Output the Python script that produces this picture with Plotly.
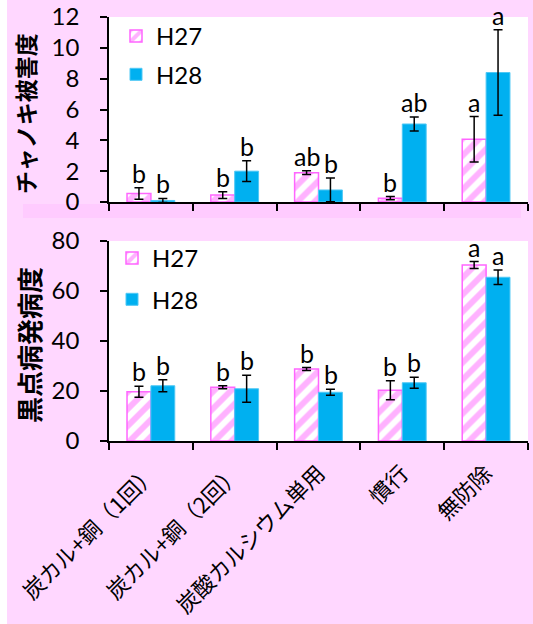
import plotly.graph_objects as go

W, H = 533, 624

categories = ["炭カル+銅（1回）", "炭カル+銅（2回）", "炭酸カルシウム単用", "慣行", "無防除"]

# Top panel: チャノキ被害度
damage_h27 = [0.55, 0.45, 1.90, 0.25, 4.07]
damage_h27_err = [0.37, 0.22, 0.12, 0.10, 1.47]
damage_h28 = [0.10, 2.00, 0.78, 5.06, 8.40]
damage_h28_err = [0.13, 0.67, 0.77, 0.45, 2.77]
damage_h27_sig = ["b", "b", "ab", "b", "a"]
damage_h28_sig = ["b", "b", "b", "ab", "a"]

# Bottom panel: 黒点病発病度
disease_h27 = [19.7, 21.5, 28.8, 20.3, 70.4]
disease_h27_err = [2.2, 0.6, 0.6, 3.8, 1.4]
disease_h28 = [22.1, 20.9, 19.5, 23.3, 65.5]
disease_h28_err = [2.4, 5.4, 1.2, 2.2, 2.9]
disease_h27_sig = ["b", "b", "b", "b", "a"]
disease_h28_sig = ["b", "b", "b", "b", "a"]

top_ticks = [0, 2, 4, 6, 8, 10, 12]
bottom_ticks = [0, 20, 40, 60, 80]

PINK = "#FF66FF"
BLUE = "#00B0F0"
BG = "#FFD7FF"
NUM_FONT = "Lato"
JP_FONT = "Noto Sans CJK JP"


def px_x(p):
    return p / W


def px_y(p):
    return 1 - p / H


fig = go.Figure()


def add_pair(xa, ya, leg, v27, e27, v28, e28):
    fig.add_trace(go.Bar(
        x=categories, y=v27, name="H27", xaxis=xa, yaxis=ya, legend=leg,
        legendgroup="H27",
        marker=dict(color="white", line=dict(color=PINK, width=1.5),
                    pattern=dict(shape="/", fgcolor=PINK, bgcolor="white",
                                 size=12, solidity=0.5)),
        error_y=dict(type="data", array=e27, color="black", thickness=1.5, width=4.5),
    ))
    fig.add_trace(go.Bar(
        x=categories, y=v28, name="H28", xaxis=xa, yaxis=ya, legend=leg,
        legendgroup="H28",
        marker=dict(color=BLUE, line=dict(color="#4FC8F5", width=1)),
        error_y=dict(type="data", array=e28, color="black", thickness=1.5, width=4.5),
    ))


add_pair("x", "y", "legend", damage_h27, damage_h27_err, damage_h28, damage_h28_err)
add_pair("x2", "y2", "legend2", disease_h27, disease_h27_err, disease_h28, disease_h28_err)

annotations = []


def add_letters(xref, yref, vals, errs, sig, shift):
    for c, v, e, s in zip(categories, vals, errs, sig):
        annotations.append(dict(
            x=c, y=v + e, xref=xref, yref=yref, text=s, showarrow=False,
            xshift=shift, yshift=-2, yanchor="bottom",
            font=dict(family=NUM_FONT, size=25, color="black"),
        ))


add_letters("x", "y", damage_h27, damage_h27_err, damage_h27_sig, -12)
add_letters("x", "y", damage_h28, damage_h28_err, damage_h28_sig, 12)
add_letters("x2", "y2", disease_h27, disease_h27_err, disease_h27_sig, -12)
add_letters("x2", "y2", disease_h28, disease_h28_err, disease_h28_sig, 12)

annotations.append(dict(
    x=px_x(25), y=px_y(114), xref="paper", yref="paper", text="<b>チャノキ被害度</b>",
    textangle=-90, showarrow=False, xanchor="center", yanchor="middle",
    font=dict(family=JP_FONT, size=23, color="black"),
))
annotations.append(dict(
    x=px_x(28), y=px_y(345), xref="paper", yref="paper", text="<b>黒点病発病度</b>",
    textangle=-90, showarrow=False, xanchor="center", yanchor="middle",
    font=dict(family=JP_FONT, size=26, color="black"),
))

xdom = [px_x(109), px_x(528)]
axis_common = dict(showline=True, linecolor="black", linewidth=1.5, ticks="outside",
                   tickcolor="black", tickwidth=1.5, ticklen=7, showgrid=False,
                   zeroline=False, automargin=False)

fig.update_layout(
    width=W, height=H,
    margin=dict(l=0, r=0, t=0, b=0),
    paper_bgcolor=BG, plot_bgcolor="white",
    barmode="group", bargap=0.43, bargroupgap=0,
    xaxis=dict(domain=xdom, anchor="y", type="category", tickson="boundaries",
               showticklabels=False, **axis_common),
    yaxis=dict(domain=[px_y(202), px_y(17)], anchor="x", range=[0, 12],
               tickvals=top_ticks, ticklabelstandoff=16,
               tickfont=dict(family=NUM_FONT, size=24, color="black"), **axis_common),
    xaxis2=dict(domain=xdom, anchor="y2", type="category", tickson="boundaries",
                tickangle=-45, ticklabelstandoff=9,
                tickfont=dict(family=JP_FONT, size=22, color="black"),
                **axis_common),
    yaxis2=dict(domain=[px_y(441), px_y(241)], anchor="x2", range=[0, 80],
                tickvals=bottom_ticks, ticklabelstandoff=16,
                tickfont=dict(family=NUM_FONT, size=24, color="black"), **axis_common),
    legend=dict(x=px_x(116), y=px_y(14), xanchor="left", yanchor="top",
                bgcolor="rgba(0,0,0,0)", tracegroupgap=4,
                font=dict(family=NUM_FONT, size=24, color="black")),
    legend2=dict(x=px_x(112), y=px_y(236), xanchor="left", yanchor="top",
                 bgcolor="rgba(0,0,0,0)", tracegroupgap=7,
                 font=dict(family=NUM_FONT, size=24, color="black")),
    annotations=annotations,
    shapes=[
        dict(type="rect", xref="paper", yref="paper", x0=0, x1=px_x(7), y0=0, y1=1,
             fillcolor="white", line=dict(width=0), layer="below"),
        dict(type="rect", xref="paper", yref="paper", x0=px_x(23), x1=px_x(521),
             y0=px_y(218), y1=px_y(204), fillcolor="#FFCBFF", line=dict(width=0),
             layer="below"),
    ],
    showlegend=True,
)

fig.write_html("out.html")
